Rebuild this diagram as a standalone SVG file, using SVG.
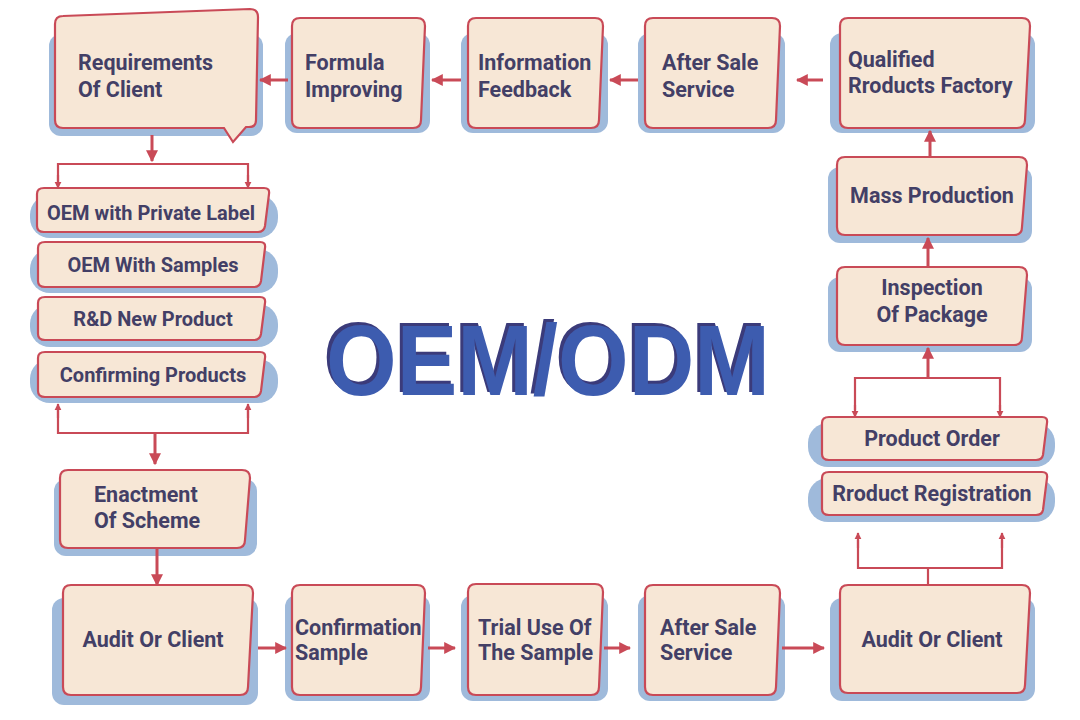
<svg xmlns="http://www.w3.org/2000/svg" width="1080" height="720" viewBox="0 0 1080 720">
<style>
.sh{fill:#9fbadb}
.bx{fill:#f7e7d6;stroke:#c94a57;stroke-width:2.2}
.t{font-family:Roboto,"Liberation Sans",sans-serif;font-weight:700;font-size:21.5px;fill:#433f66}
.s{font-size:20px}
.tc{text-anchor:middle}
.ln{stroke:#c94a57;stroke-width:3;fill:none}
.ln2{stroke:#c94a57;stroke-width:2.2;fill:none}
</style>
<defs>
<marker id="a" viewBox="0 0 10 10" refX="9" refY="5" markerWidth="4" markerHeight="4" orient="auto" markerUnits="strokeWidth"><path d="M0,0 L10,5 L0,10 Z" fill="#c94a57"/></marker>
<marker id="s" viewBox="0 0 10 10" refX="9" refY="5" markerWidth="3.2" markerHeight="3.2" orient="auto" markerUnits="strokeWidth"><path d="M0,0 L10,5 L0,10 Z" fill="#c94a57"/></marker>
<filter id="ts" x="-5%" y="-10%" width="110%" height="120%">
<feFlood flood-color="#3a3a7a"/>
<feComposite in2="SourceAlpha" operator="in"/>
<feOffset dx="-3" dy="-3" result="d"/>
<feMerge><feMergeNode in="d"/><feMergeNode in="SourceGraphic"/></feMerge>
</filter>
</defs>
<rect width="1080" height="720" fill="#ffffff"/>

<!-- title -->
<g id="title">
<text x="326" y="395" font-family="'Liberation Sans',Arial,sans-serif" font-weight="700" font-size="100" textLength="444" lengthAdjust="spacingAndGlyphs" fill="#3d5caf" filter="url(#ts)">OEM/ODM</text>
</g>

<!-- top row -->
<g id="n-requirements">
<rect class="sh" x="49" y="34" width="214" height="102" rx="12"/>
<path class="bx" d="M63,16 L250,9 Q258,9 258,17 L256,120 Q256,127 249,127 L246,127 L233,142 L224,128 L63,128 Q55,128 55,120 L55,24 Q55,16 63,16 Z"/>
<text class="t" x="78" y="70">Requirements</text>
<text class="t" x="78" y="97">Of Client</text>
</g>
<g id="n-formula">
<rect class="sh" x="285" y="33" width="145" height="100" rx="12"/>
<path class="bx" d="M300,18 H417 Q425,18 425,26 L421,120 Q421,128 413,128 H300 Q292,128 292,120 V26 Q292,18 300,18 Z"/>
<text class="t" x="305" y="70">Formula</text>
<text class="t" x="305" y="97">Improving</text>
</g>
<g id="n-info">
<rect class="sh" x="461" y="33" width="147" height="100" rx="12"/>
<path class="bx" d="M476,18 H595 Q603,18 603,26 L599,120 Q599,128 591,128 H476 Q468,128 468,120 V26 Q468,18 476,18 Z"/>
<text class="t" x="478" y="70">Information</text>
<text class="t" x="478" y="97">Feedback</text>
</g>
<g id="n-aftersale-top">
<rect class="sh" x="638" y="33" width="147" height="100" rx="12"/>
<path class="bx" d="M653,18 H772 Q780,18 780,26 L776,120 Q776,128 768,128 H653 Q645,128 645,120 V26 Q645,18 653,18 Z"/>
<text class="t" x="662" y="70">After Sale</text>
<text class="t" x="662" y="97">Service</text>
</g>
<g id="n-qualified">
<rect class="sh" x="830" y="33" width="205" height="100" rx="12"/>
<path class="bx" d="M848,18 H1022 Q1030,18 1030,26 L1025,120 Q1025,128 1017,128 H848 Q840,128 840,120 V26 Q840,18 848,18 Z"/>
<text class="t" x="848" y="67">Qualified</text>
<text class="t" x="848" y="93">Rroducts Factory</text>
</g>

<!-- right column -->
<g id="n-mass">
<rect class="sh" x="828" y="167" width="204" height="76" rx="12"/>
<path class="bx" d="M845,157 H1019 Q1027,157 1027,165 L1022,227 Q1022,235 1014,235 H845 Q837,235 837,227 V165 Q837,157 845,157 Z"/>
<text class="t tc" x="932" y="203">Mass Production</text>
</g>
<g id="n-inspection">
<rect class="sh" x="828" y="277" width="204" height="75" rx="12"/>
<path class="bx" d="M845,267 H1019 Q1027,267 1027,275 L1022,337 Q1022,345 1014,345 H845 Q837,345 837,337 V275 Q837,267 845,267 Z"/>
<text class="t tc" x="932" y="295">Inspection</text>
<text class="t tc" x="932" y="322">Of Package</text>
</g>
<g id="n-order">
<rect class="sh" x="808" y="423" width="247" height="44" rx="20"/>
<path class="bx" d="M829,417 H1042 Q1048,417 1047,423 L1043,455 Q1042,460 1036,460 H829 Q822,460 822,454 V423 Q822,417 829,417 Z"/>
<text class="t tc" x="932" y="446">Product Order</text>
</g>
<g id="n-registration">
<rect class="sh" x="808" y="478" width="247" height="44" rx="20"/>
<path class="bx" d="M829,472 H1042 Q1048,472 1047,478 L1043,510 Q1042,515 1036,515 H829 Q822,515 822,509 V478 Q822,472 829,472 Z"/>
<text class="t tc" x="932" y="501">Rroduct Registration</text>
</g>
<g id="n-audit-right">
<rect class="sh" x="830" y="598" width="205" height="103" rx="12"/>
<path class="bx" d="M848,585 H1022 Q1030,585 1030,593 L1025,685 Q1025,693 1017,693 H848 Q840,693 840,685 V593 Q840,585 848,585 Z"/>
<text class="t tc" x="932" y="647">Audit Or Client</text>
</g>

<!-- bottom row -->
<g id="n-audit-left">
<rect class="sh" x="52" y="598" width="206" height="107" rx="12"/>
<path class="bx" d="M71,585 H245 Q253,585 253,593 L248,687 Q248,695 240,695 H71 Q63,695 63,687 V593 Q63,585 71,585 Z"/>
<text class="t tc" x="153" y="647">Audit Or Client</text>
</g>
<g id="n-confirmation">
<rect class="sh" x="285" y="595" width="145" height="106" rx="12"/>
<path class="bx" d="M300,585 H417 Q425,585 425,593 L421,687 Q421,695 413,695 H300 Q292,695 292,687 V593 Q292,585 300,585 Z"/>
<text class="t" x="295" y="635">Confirmation</text>
<text class="t" x="295" y="660">Sample</text>
</g>
<g id="n-trial">
<rect class="sh" x="461" y="595" width="147" height="106" rx="12"/>
<path class="bx" d="M476,584 H595 Q603,584 603,592 L599,687 Q599,695 591,695 H476 Q468,695 468,687 V592 Q468,584 476,584 Z"/>
<text class="t" x="478" y="635">Trial Use Of</text>
<text class="t" x="478" y="660">The Sample</text>
</g>
<g id="n-aftersale-bottom">
<rect class="sh" x="638" y="595" width="147" height="106" rx="12"/>
<path class="bx" d="M653,585 H772 Q780,585 780,593 L776,687 Q776,695 768,695 H653 Q645,695 645,687 V593 Q645,585 653,585 Z"/>
<text class="t" x="660" y="635">After Sale</text>
<text class="t" x="660" y="660">Service</text>
</g>

<!-- left column -->
<g id="n-enactment">
<rect class="sh" x="54" y="479" width="203" height="77" rx="12"/>
<path class="bx" d="M68,470 H242 Q250,470 250,478 L245,540 Q245,548 237,548 H68 Q60,548 60,540 V478 Q60,470 68,470 Z"/>
<text class="t" x="94" y="502">Enactment</text>
<text class="t" x="94" y="528">Of Scheme</text>
</g>
<g id="n-private">
<rect class="sh" x="30" y="195" width="248" height="43" rx="20"/>
<path class="bx" d="M44,188 H264 Q270,188 269,194 L265,226 Q264,232 258,232 H44 Q37,232 37,226 V194 Q37,188 44,188 Z"/>
<text class="t tc s" x="151" y="220">OEM with Private Label</text>
</g>
<g id="n-samples">
<rect class="sh" x="30" y="249" width="248" height="44" rx="20"/>
<path class="bx" d="M45,242 H260 Q266,242 265,248 L261,281 Q260,287 254,287 H45 Q38,287 38,281 V248 Q38,242 45,242 Z"/>
<text class="t tc s" x="153" y="272">OEM With Samples</text>
</g>
<g id="n-rd">
<rect class="sh" x="30" y="304" width="248" height="43" rx="20"/>
<path class="bx" d="M45,297 H260 Q266,297 265,303 L261,334 Q260,340 254,340 H45 Q38,340 38,334 V303 Q38,297 45,297 Z"/>
<text class="t tc s" x="153" y="326">R&amp;D New Product</text>
</g>
<g id="n-confirming">
<rect class="sh" x="30" y="359" width="248" height="44" rx="20"/>
<path class="bx" d="M45,352 H260 Q266,352 265,358 L261,391 Q260,397 254,397 H45 Q38,397 38,391 V358 Q38,352 45,352 Z"/>
<text class="t tc s" x="153" y="382">Confirming Products</text>
</g>

<!-- connectors -->
<g id="connectors">
<line class="ln" x1="288" y1="80" x2="260" y2="80" marker-end="url(#a)"/>
<line class="ln" x1="461" y1="80" x2="432" y2="80" marker-end="url(#a)"/>
<line class="ln" x1="638" y1="80" x2="610" y2="80" marker-end="url(#a)"/>
<line class="ln" x1="823" y1="80" x2="797" y2="80" marker-end="url(#a)"/>

<line class="ln" x1="152" y1="135" x2="152" y2="161" marker-end="url(#a)"/>
<polyline class="ln2" points="58,186 58,164 248,164 248,186"/>
<line class="ln2" x1="58" y1="175" x2="58" y2="188" marker-end="url(#s)"/>
<line class="ln2" x1="248" y1="175" x2="248" y2="188" marker-end="url(#s)"/>

<polyline class="ln2" points="58,410 58,433 248,433 248,410"/>
<line class="ln2" x1="58" y1="418" x2="58" y2="404" marker-end="url(#s)"/>
<line class="ln2" x1="248" y1="418" x2="248" y2="404" marker-end="url(#s)"/>
<line class="ln" x1="155" y1="433" x2="155" y2="464" marker-end="url(#a)"/>
<line class="ln" x1="157" y1="549" x2="157" y2="585" marker-end="url(#a)"/>

<line class="ln" x1="258" y1="648" x2="286" y2="648" marker-end="url(#a)"/>
<line class="ln" x1="428" y1="648" x2="455" y2="648" marker-end="url(#a)"/>
<line class="ln" x1="604" y1="648" x2="630" y2="648" marker-end="url(#a)"/>
<line class="ln" x1="782" y1="648" x2="824" y2="648" marker-end="url(#a)"/>

<line class="ln2" x1="928" y1="585" x2="928" y2="568"/>
<polyline class="ln2" points="858,540 858,568 1002,568 1002,540"/>
<line class="ln2" x1="858" y1="548" x2="858" y2="533" marker-end="url(#s)"/>
<line class="ln2" x1="1002" y1="548" x2="1002" y2="533" marker-end="url(#s)"/>

<polyline class="ln2" points="855,410 855,378 1000,378 1000,410"/>
<line class="ln2" x1="855" y1="405" x2="855" y2="417" marker-end="url(#s)"/>
<line class="ln2" x1="1000" y1="405" x2="1000" y2="417" marker-end="url(#s)"/>
<line class="ln" x1="928" y1="378" x2="928" y2="348" marker-end="url(#a)"/>
<line class="ln" x1="928" y1="267" x2="928" y2="238" marker-end="url(#a)"/>
<line class="ln" x1="930" y1="157" x2="930" y2="131" marker-end="url(#a)"/>
</g>
</svg>
